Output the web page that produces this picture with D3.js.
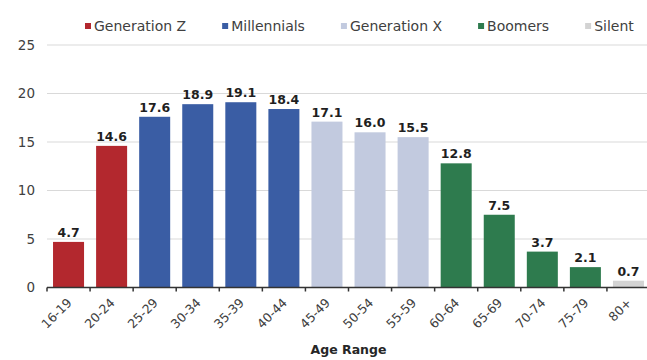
<!DOCTYPE html>
<html>
<head>
<meta charset="utf-8">
<script src="https://cdn.jsdelivr.net/npm/d3@7"></script>
<style>
  html, body { margin: 0; padding: 0; background: #fff; }
  svg { display: block; font-family: "DejaVu Sans", sans-serif; }
</style>
</head>
<body>
<svg id="chart" width="647" height="360"></svg>
<script>
// Share of population by age range, grouped by generation
const ageRanges = ["16-19", "20-24", "25-29", "30-34", "35-39", "40-44", "45-49",
                   "50-54", "55-59", "60-64", "65-69", "70-74", "75-79", "80+"];
const shares = [4.7, 14.6, 17.6, 18.9, 19.1, 18.4, 17.1, 16.0, 15.5, 12.8, 7.5, 3.7, 2.1, 0.7];
const generationOf = ["Generation Z", "Generation Z", "Millennials", "Millennials", "Millennials",
                      "Millennials", "Generation X", "Generation X", "Generation X", "Boomers",
                      "Boomers", "Boomers", "Boomers", "Silent"];
const generations = ["Generation Z", "Millennials", "Generation X", "Boomers", "Silent"];
const generationColors = ["#b3282e", "#3a5da4", "#c2cadf", "#2e7b4e", "#d3d3d3"];
const yTicks = [0, 5, 10, 15, 20, 25];

const svg = d3.select("#chart");
const margin = { top: 45, right: -3, bottom: 72.5, left: 47 };
const width = 647, height = 360;

const x = d3.scaleBand()
  .domain(ageRanges)
  .range([margin.left, width - margin.right])
  .paddingInner(0.28)
  .paddingOuter(0.14);

const y = d3.scaleLinear()
  .domain([0, 25])
  .range([height - margin.bottom, margin.top]);

const color = d3.scaleOrdinal().domain(generations).range(generationColors);

// horizontal gridlines
svg.append("g")
  .selectAll("line")
  .data(yTicks.filter(t => t > 0))
  .join("line")
  .attr("x1", margin.left).attr("x2", width)
  .attr("y1", d => y(d)).attr("y2", d => y(d))
  .attr("stroke", "#d9d9d9").attr("stroke-width", 1.2);

// y-axis labels
const yAxis = svg.append("g")
  .attr("transform", `translate(${margin.left},0)`)
  .call(d3.axisLeft(y).tickValues(yTicks).tickSize(0).tickPadding(12).tickFormat(d3.format("d")));
yAxis.select(".domain").remove();
yAxis.selectAll("text")
  .attr("font-family", "DejaVu Sans, sans-serif")
  .attr("font-size", 13.5)
  .attr("fill", "#404040");

// bars
svg.append("g")
  .selectAll("rect")
  .data(ageRanges)
  .join("rect")
  .attr("x", d => x(d))
  .attr("width", x.bandwidth())
  .attr("y", (d, i) => y(shares[i]))
  .attr("height", (d, i) => y(0) - y(shares[i]))
  .attr("fill", (d, i) => color(generationOf[i]));

// value labels
svg.append("g")
  .selectAll("text")
  .data(ageRanges)
  .join("text")
  .attr("x", d => x(d) + x.bandwidth() / 2)
  .attr("y", (d, i) => y(shares[i]) - 5)
  .attr("text-anchor", "middle")
  .attr("font-weight", "bold")
  .attr("font-size", 12.5)
  .attr("fill", "#1f1f1f")
  .text((d, i) => shares[i].toFixed(1));

// x axis with ticks at category boundaries
const step = x.step();
const x0 = margin.left;
const axisG = svg.append("g").attr("transform", `translate(0,${y(0)})`);
axisG.append("line")
  .attr("x1", x0).attr("x2", width)
  .attr("y1", 0).attr("y2", 0)
  .attr("stroke", "#333").attr("stroke-width", 1.5);
axisG.selectAll("line.tick")
  .data(d3.range(ageRanges.length))
  .join("line")
  .attr("class", "tick")
  .attr("x1", i => x0 + i * step).attr("x2", i => x0 + i * step)
  .attr("y1", 0).attr("y2", 4)
  .attr("stroke", "#333").attr("stroke-width", 1.5);

axisG.selectAll("text")
  .data(ageRanges)
  .join("text")
  .attr("transform", d => `translate(${x(d) + x.bandwidth() / 2 + 4},${16}) rotate(-45)`)
  .attr("text-anchor", "end")
  .attr("font-size", 12.5)
  .attr("fill", "#404040")
  .text(d => d);

// axis title
svg.append("text")
  .attr("x", (margin.left + width + 3) / 2)
  .attr("y", 354)
  .attr("text-anchor", "middle")
  .attr("font-weight", "bold")
  .attr("font-size", 12.5)
  .attr("fill", "#262626")
  .text("Age Range");

// legend
const legend = svg.append("g").attr("transform", "translate(85,26)");
let lx = 0;
generations.forEach((g, i) => {
  const item = legend.append("g").attr("transform", `translate(${lx},0)`);
  item.append("rect")
    .attr("x", 0).attr("y", -3)
    .attr("width", 6).attr("height", 6)
    .attr("fill", generationColors[i]);
  const t = item.append("text")
    .attr("x", 9).attr("y", 5)
    .attr("font-size", 14)
    .attr("fill", "#404040")
    .text(g);
  lx += 9 + t.node().getComputedTextLength() + 36;
});
</script>
</body>
</html>
